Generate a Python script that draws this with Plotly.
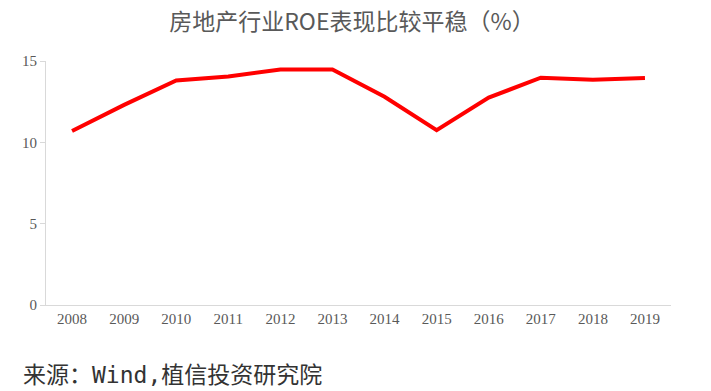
import plotly.graph_objects as go

years = ["2008", "2009", "2010", "2011", "2012", "2013", "2014", "2015", "2016", "2017", "2018", "2019"]
roe = [10.7, 12.3, 13.8, 14.05, 14.48, 14.48, 12.8, 10.75, 12.75, 13.97, 13.85, 13.95]
y_ticks = [0, 5, 10, 15]

fig = go.Figure()
fig.add_trace(go.Scatter(
    x=years, y=roe, mode="lines",
    line=dict(color="#ff0000", width=4),
    showlegend=False,
))

fig.update_layout(
    width=711, height=391,
    margin=dict(l=46, r=40, t=61, b=86),
    paper_bgcolor="white", plot_bgcolor="white",
    title=dict(text="房地产行业ROE表现比较平稳（%）", x=0.495, xanchor="center",
               y=0.944, yanchor="middle",
               font=dict(family="Noto Sans CJK SC", size=23, color="#595959")),
    xaxis=dict(type="category", showgrid=False, showline=True, linecolor="#d9d9d9",
               linewidth=1, ticks="", tickfont=dict(family="Liberation Serif", size=15, color="#595959"),
               range=[-0.5, 11.5]),
    yaxis=dict(range=[0, 15], tickvals=y_ticks, showgrid=False, showline=True,
               linecolor="#d9d9d9", linewidth=1, ticks="outside", ticklen=5, tickcolor="#d9d9d9",
               zeroline=False,
               tickfont=dict(family="Liberation Serif", size=15, color="#595959")),
    annotations=[dict(text="来源：Wind,植信投资研究院", xref="paper", yref="paper",
                      x=-0.04, y=-0.285, xanchor="left", yanchor="middle", showarrow=False,
                      font=dict(family="DejaVu Sans Mono, Noto Sans CJK SC", size=23, color="#333333"))],
)

fig.write_html("out.html", config={"displayModeBar": False},
               post_script="document.body.style.margin='0';document.body.style.overflow='hidden';")
